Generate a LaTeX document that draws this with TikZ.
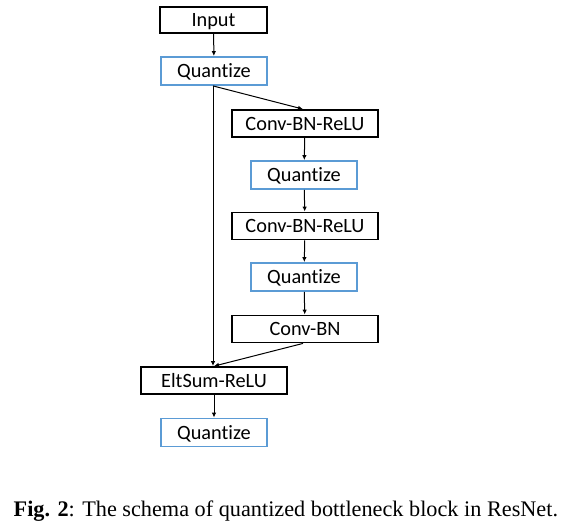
\documentclass[tikz,border=0pt]{standalone}
\usepackage{fontspec}
\setmainfont{Liberation Serif}
\newfontfamily\boxfont[Ligatures={NoCommon}]{Carlito}
\usetikzlibrary{arrows.meta}
\definecolor{qblue}{HTML}{5B9BD5}
\begin{document}
\begin{tikzpicture}[x=1pt,y=-1pt,
  lbl/.style={inner sep=0pt,text height=13pt,text depth=0pt,font=\boxfont\fontsize{20.3}{22}\selectfont},
  blk/.style={lbl,draw=black,line width=1.8pt},
  qbox/.style={lbl,draw=qblue,line width=1.8pt,minimum width=106pt,minimum height=28pt},
  wide/.style={blk,minimum width=146pt,minimum height=27pt},
  arr/.style={line width=1pt,-{Latex[length=5pt,width=4.5pt]}}]
\useasboundingbox (0,0) rectangle (575,531);
\node[blk,minimum width=107pt,minimum height=26pt] (in) at (213.5,20) {Input};
\node[qbox] (q1) at (214,71) {Quantize};
\node[wide] (c1) at (305,123.5) {Conv-BN-ReLU};
\node[qbox] (q2) at (304,175) {Quantize};
\node[wide] (c2) at (305,226) {Conv-BN-ReLU};
\node[qbox] (q3) at (304,277) {Quantize};
\node[wide] (cb) at (305,329) {Conv-BN};
\node[wide] (el) at (214,380.5) {EltSum-ReLU};
\node[qbox] (q4) at (214,432.5) {Quantize};
\draw[arr] (in) -- (q1);
\draw[arr] ([xshift=-1pt]q1.south) -- ([xshift=-1pt]q1.south |- el.north);
\draw[arr] ([xshift=-1pt]q1.south) -- ([xshift=-2pt]c1.north);
\draw[arr] (c1) -- (q2);
\draw[arr] (q2) -- (c2);
\draw[arr] (c2) -- (q3);
\draw[arr] (q3) -- (cb);
\draw[arr] ([xshift=-2pt]cb.south) -- (el.north);
\draw[arr] (el) -- (q4);
\node[anchor=base west,inner sep=0pt,font=\fontsize{22.25}{24}\selectfont] (cap) at (13.5,516) {\textbf{Fig. 2}: The schema of quantized bottleneck block in ResNet.};
\end{tikzpicture}
\end{document}
